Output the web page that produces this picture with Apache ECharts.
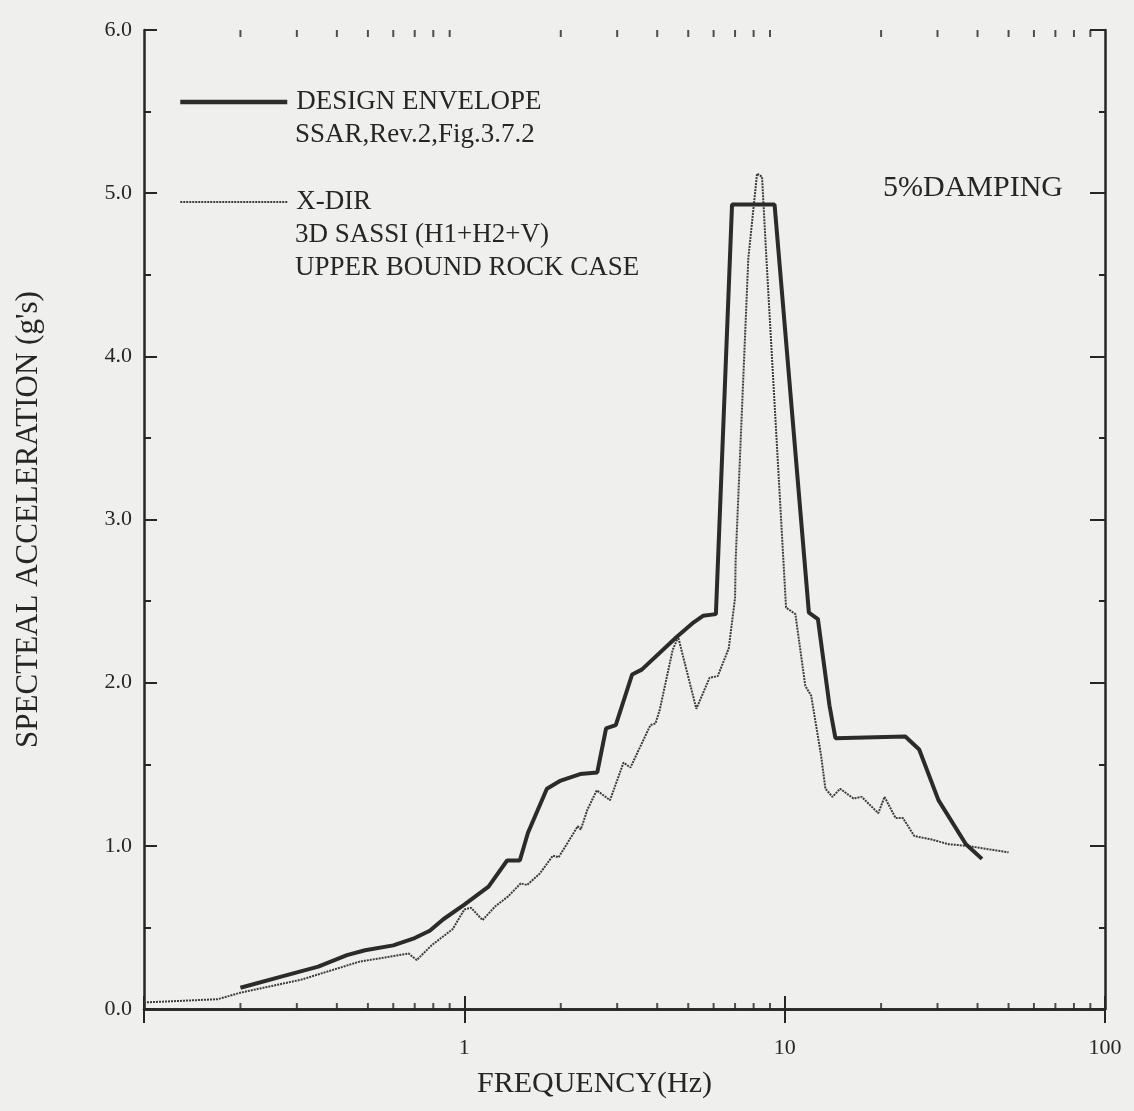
<!DOCTYPE html>
<html>
<head>
<meta charset="utf-8">
<script src="https://cdn.jsdelivr.net/npm/echarts@6/dist/echarts.min.js"></script>
<style>
html,body{margin:0;padding:0;background:#efefed;}
#c{width:1134px;height:1111px;}
</style>
</head>
<body>
<div id="c"></div>
<script>
// ---- data ----
const designFreq = [0.2,0.27,0.35,0.43,0.49,0.6,0.7,0.78,0.86,1.0,1.19,1.36,1.49,1.58,1.81,2.0,2.3,2.6,2.77,2.97,3.34,3.58,4.6,5.2,5.56,6.1,6.85,9.3,11.9,12.7,13.8,14.4,23.8,26.3,30.2,36.8,41.3];
const designAcc  = [0.13,0.20,0.26,0.33,0.36,0.39,0.435,0.48,0.55,0.64,0.75,0.91,0.91,1.08,1.35,1.40,1.44,1.45,1.72,1.74,2.05,2.08,2.28,2.37,2.41,2.42,4.93,4.93,2.43,2.39,1.86,1.66,1.67,1.59,1.28,1.01,0.92];

const xdirFreq = [0.1,0.17,0.2,0.31,0.47,0.67,0.71,0.79,0.92,1.0,1.05,1.14,1.25,1.37,1.5,1.57,1.72,1.89,1.97,2.26,2.31,2.42,2.59,2.85,3.14,3.3,3.81,3.95,4.07,4.47,4.65,5.3,5.83,6.18,6.69,7.0,7.03,7.7,8.2,8.5,8.77,10.1,10.8,11.6,12.1,13.0,13.4,14.1,14.9,16.4,17.4,19.6,20.5,22.2,23.4,25.4,28.6,32.5,37,50];
const xdirAcc  = [0.04,0.06,0.10,0.18,0.29,0.34,0.30,0.39,0.49,0.61,0.62,0.545,0.63,0.69,0.77,0.76,0.83,0.94,0.93,1.12,1.10,1.22,1.34,1.28,1.51,1.48,1.74,1.75,1.83,2.20,2.28,1.84,2.03,2.04,2.21,2.52,2.75,4.6,5.12,5.1,4.6,2.46,2.42,1.98,1.92,1.55,1.35,1.30,1.35,1.29,1.30,1.20,1.30,1.17,1.17,1.06,1.04,1.01,1.0,0.96];

const seriesNames = ['DESIGN ENVELOPE', 'X-DIR'];
const legendSubLines = [['SSAR,Rev.2,Fig.3.7.2'], ['3D SASSI (H1+H2+V)', 'UPPER BOUND ROCK CASE']];
const xTickLabels = {'-1': '', '0': '1', '1': '10', '2': '100'};
const minorTickFreqs = [0.2,0.3,0.4,0.5,0.6,0.7,0.8,0.9,2,3,4,5,6,7,8,9,20,30,40,50,60,70,80,90];
const xAxisTitle = 'FREQUENCY(Hz)';
const yAxisTitle = "SPECTEAL ACCELERATION (g's)";
const noteText = '5%DAMPING';

// ---- chart ----
const FONT = '"Liberation Serif", "DejaVu Serif", serif';
const INK = '#262626';
const DESIGN_COLOR = '#2b2b2b';
const XDIR_COLOR = '#3c3c3c';
const chart = echarts.init(document.getElementById('c'), null, {renderer: 'canvas'});

function pair(f, a) { return f.map((v, i) => [v, a[i]]); }

const axisLine = {show: true, lineStyle: {color: INK, width: 2.5}};
const option = {
  backgroundColor: '#efefed',
  animation: false,
  color: [DESIGN_COLOR, XDIR_COLOR],
  grid: {left: 144, right: 29, top: 30, bottom: 102},
  xAxis: [
    {
      type: 'log', logBase: 10, min: 0.1, max: 100, position: 'bottom',
      name: xAxisTitle, nameLocation: 'middle', nameGap: 60,
      nameTextStyle: {fontFamily: FONT, fontSize: 30, color: INK, padding: [0, 60, 0, 0]},
      axisLine: axisLine,
      axisTick: {show: true, inside: true, length: 13, lineStyle: {color: INK, width: 2}},
      axisLabel: {show: true, margin: 28, fontFamily: FONT, fontSize: 22, color: INK,
        formatter: v => xTickLabels[String(Math.round(Math.log10(v)))] || ''},
      splitLine: {show: false}
    },
    {
      type: 'log', logBase: 10, min: 0.1, max: 100, position: 'top',
      axisLine: axisLine,
      axisTick: {show: true, inside: true, length: 14, lineStyle: {color: INK, width: 2}},
      axisLabel: {show: false},
      splitLine: {show: false}
    }
  ],
  yAxis: [
    {
      type: 'value', min: 0, max: 6, interval: 1, position: 'left',
      name: yAxisTitle, nameLocation: 'middle', nameGap: 100, nameRotate: 90,
      nameTextStyle: {fontFamily: FONT, fontSize: 31, color: INK},
      axisLine: axisLine,
      axisTick: {show: true, inside: true, length: 13, lineStyle: {color: INK, width: 2}},
      minorTick: {show: true, splitNumber: 2, length: 7, lineStyle: {color: INK, width: 2}},
      axisLabel: {show: true, margin: 12, fontFamily: FONT, fontSize: 22, color: INK,
        formatter: v => v.toFixed(1)},
      splitLine: {show: false}
    },
    {
      type: 'value', min: 0, max: 6, interval: 1, position: 'right',
      axisLine: axisLine,
      axisTick: {show: true, inside: true, length: 15, lineStyle: {color: INK, width: 2}},
      minorTick: {show: true, splitNumber: 2, length: 6, lineStyle: {color: INK, width: 2}},
      axisLabel: {show: false},
      splitLine: {show: false}
    }
  ],
  legend: {
    data: [
      {name: seriesNames[0], lineStyle: {width: 4.5, color: DESIGN_COLOR, type: 'solid'}},
      {name: seriesNames[1], lineStyle: {width: 2, color: XDIR_COLOR, type: [2, 1]}}
    ],
    orient: 'vertical', left: 178, top: 85, padding: 0,
    itemWidth: 107, itemHeight: 14, itemGap: 66,
    itemStyle: {opacity: 0},
    textStyle: {fontFamily: FONT, fontSize: 27, color: INK, lineHeight: 34, padding: [0, 0, 0, 4]},
    selectedMode: false
  },
  graphic: [
    {type: 'text', left: 295, top: 121, style: {text: legendSubLines[0][0], font: '27px ' + FONT, fill: INK}},
    {type: 'text', left: 295, top: 221, style: {text: legendSubLines[1][0], font: '27px ' + FONT, fill: INK}},
    {type: 'text', left: 295, top: 254, style: {text: legendSubLines[1][1], font: '27px ' + FONT, fill: INK}},
    {type: 'text', left: 883, top: 173, style: {text: noteText, font: '30px ' + FONT, fill: INK}}
  ],
  series: [
    {
      name: seriesNames[0], type: 'line', data: pair(designFreq, designAcc),
      symbol: 'none', smooth: false, z: 3,
      itemStyle: {color: DESIGN_COLOR},
      lineStyle: {color: DESIGN_COLOR, width: 4}
    },
    {
      name: seriesNames[1], type: 'line', data: pair(xdirFreq, xdirAcc),
      symbol: 'none', smooth: false, z: 2,
      itemStyle: {color: XDIR_COLOR},
      lineStyle: {color: XDIR_COLOR, width: 2, type: [2, 1]}
    },
    {
      name: 'minorBottom', type: 'scatter', silent: true, clip: false, z: 5,
      data: minorTickFreqs.map(f => [f, 0]),
      symbol: 'rect', symbolSize: [2, 6], symbolOffset: [0, -3],
      itemStyle: {color: INK}
    },
    {
      name: 'minorTop', type: 'scatter', silent: true, clip: false, z: 5,
      xAxisIndex: 1,
      data: minorTickFreqs.map(f => [f, 6]),
      symbol: 'rect', symbolSize: [2, 7], symbolOffset: [0, 3.5],
      itemStyle: {color: INK}
    }
  ]
};
chart.setOption(option);
</script>
</body>
</html>
